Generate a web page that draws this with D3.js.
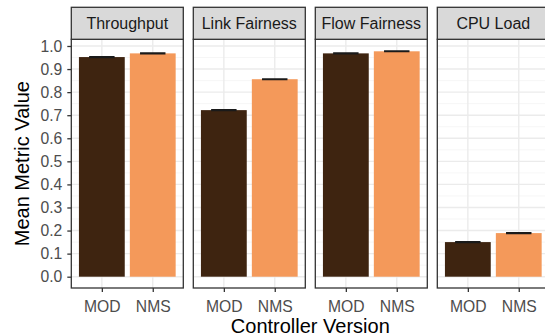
<!DOCTYPE html>
<meta charset="utf-8">
<title>metrics</title>
<style>
  body { margin: 0; background: #fff; }
  svg text { font-family: "Liberation Sans", Arial, sans-serif; }
</style>
<body>
<div class="chart"></div>
</body>
<script src="https://d3js.org/d3.v7.min.js"></script>
<script>

// data

var metrics = ["Throughput", "Link Fairness", "Flow Fairness", "CPU Load"];
var versions = ["MOD", "NMS"];
var modValues = [0.952, 0.722, 0.968, 0.150];
var nmsValues = [0.968, 0.856, 0.977, 0.189];
var modErrors = [0.002, 0.002, 0.002, 0.002];
var nmsErrors = [0.002, 0.002, 0.002, 0.002];
var yTicks = [0.0, 0.1, 0.2, 0.3, 0.4, 0.5, 0.6, 0.7, 0.8, 0.9, 1.0];
var yMinor = [0.05, 0.15, 0.25, 0.35, 0.45, 0.55, 0.65, 0.75, 0.85, 0.95];

var colors = {MOD: "#3e2410", NMS: "#f4995a"};

var W = 545, H = 335;
var panelLeft = 71.3, panelW = 112, gap = 10;
var stripTop = 7.3, stripH = 32;
var panelTop = stripTop + stripH, panelBottom = 288;

var svg = d3.select(".chart").append("svg")
  .attr("width", W)
  .attr("height", H);

// scales

var yscale = d3.scaleLinear()
  .domain([-0.049, 1.029])
  .range([panelBottom, panelTop]);

var xscale = d3.scaleLinear()
  .domain([0.4, 2.6])
  .range([0, panelW]);

var data = metrics.map(function(m, i) {
  return {
    metric: m,
    bars: [
      {version: "MOD", value: modValues[i], err: modErrors[i]},
      {version: "NMS", value: nmsValues[i], err: nmsErrors[i]}
    ]
  };
});

var panel = svg.selectAll("g.panel")
  .data(data)
  .enter()
  .append("g")
  .attr("class", "panel")
  .attr("transform", function(d, i) {
    return "translate(" + (panelLeft + i * (panelW + gap)) + ",0)";
  });

// background + grid

panel.append("rect")
  .attr("x", 0).attr("y", panelTop)
  .attr("width", panelW).attr("height", panelBottom - panelTop)
  .attr("fill", "#fff");

panel.selectAll("line.minor")
  .data(yMinor)
  .enter().append("line")
  .attr("x1", 0).attr("x2", panelW)
  .attr("y1", function(d) { return yscale(d); })
  .attr("y2", function(d) { return yscale(d); })
  .attr("stroke", "#f4f4f4")
  .attr("stroke-width", 0.8);

panel.selectAll("line.major")
  .data(yTicks)
  .enter().append("line")
  .attr("x1", 0).attr("x2", panelW)
  .attr("y1", function(d) { return yscale(d); })
  .attr("y2", function(d) { return yscale(d); })
  .attr("stroke", "#ebebeb")
  .attr("stroke-width", 1.4);

panel.selectAll("line.vmajor")
  .data([1, 2])
  .enter().append("line")
  .attr("x1", function(d) { return xscale(d); })
  .attr("x2", function(d) { return xscale(d); })
  .attr("y1", panelTop).attr("y2", panelBottom)
  .attr("stroke", "#ebebeb")
  .attr("stroke-width", 1.4);

// bars

panel.selectAll("rect.bar")
  .data(function(d) { return d.bars; })
  .enter().append("rect")
  .attr("class", "bar")
  .attr("x", function(d, i) { return xscale(i + 1 - 0.45); })
  .attr("width", xscale(1.9) - xscale(1))
  .attr("y", function(d) { return yscale(d.value); })
  .attr("height", function(d) { return yscale(0) - yscale(d.value); })
  .attr("fill", function(d) { return colors[d.version]; });

// error bars

var eb = panel.selectAll("g.err")
  .data(function(d) { return d.bars; })
  .enter().append("g")
  .attr("class", "err");

eb.append("path")
  .attr("d", function(d, i) {
    var x0 = xscale(i + 1 - 0.25), x1 = xscale(i + 1 + 0.25), xc = xscale(i + 1);
    var y0 = yscale(d.value - d.err), y1 = yscale(d.value + d.err);
    return "M" + x0 + "," + y1 + "H" + x1 + "M" + x0 + "," + y0 + "H" + x1 +
      "M" + xc + "," + y0 + "V" + y1;
  })
  .attr("fill", "none")
  .attr("stroke", "#1a1a1a")
  .attr("stroke-width", 1.2);

// panel border

panel.append("rect")
  .attr("x", 0).attr("y", panelTop)
  .attr("width", panelW).attr("height", panelBottom - panelTop)
  .attr("fill", "none")
  .attr("stroke", "#333")
  .attr("stroke-width", 1.3);

// strips

panel.append("rect")
  .attr("x", 0).attr("y", stripTop)
  .attr("width", panelW).attr("height", stripH)
  .attr("fill", "#d9d9d9")
  .attr("stroke", "#333")
  .attr("stroke-width", 1.3);

panel.append("text")
  .attr("x", panelW / 2)
  .attr("y", stripTop + stripH / 2 + 5.7)
  .attr("text-anchor", "middle")
  .attr("font-size", "16px")
  .attr("fill", "#1a1a1a")
  .text(function(d) { return d.metric; });

// x axes

var xaxis = d3.axisBottom(xscale)
  .tickValues([1, 2])
  .tickFormat(function(d) { return versions[d - 1]; })
  .tickSize(4)
  .tickPadding(5);

panel.append("g")
  .attr("class", "axis xaxis")
  .attr("transform", "translate(0," + panelBottom + ")")
  .call(xaxis)
  .call(function(g) {
    g.select(".domain").remove();
    g.selectAll("line").attr("stroke", "#333").attr("stroke-width", 1.3);
    g.selectAll("text")
      .attr("font-size", "15.7px")
      .attr("fill", "#4d4d4d")
      .attr("dy", "0.95em");
  });

// y axis (first panel only)

var yaxis = d3.axisLeft(yscale)
  .tickValues(yTicks)
  .tickFormat(d3.format(".1f"))
  .tickSize(4)
  .tickPadding(5);

svg.append("g")
  .attr("class", "axis yaxis")
  .attr("transform", "translate(" + panelLeft + ",0)")
  .call(yaxis)
  .call(function(g) {
    g.select(".domain").remove();
    g.selectAll("line").attr("stroke", "#333").attr("stroke-width", 1.3);
    g.selectAll("text")
      .attr("font-size", "15.7px")
      .attr("fill", "#4d4d4d");
  });

// axis titles

svg.append("text")
  .attr("x", panelLeft + (4 * panelW + 3 * gap) / 2)
  .attr("y", 332.5)
  .attr("text-anchor", "middle")
  .attr("font-size", "20px")
  .attr("fill", "#000")
  .text("Controller Version");

svg.append("text")
  .attr("transform", "translate(29," + ((panelTop + panelBottom) / 2) + ") rotate(-90)")
  .attr("text-anchor", "middle")
  .attr("font-size", "20px")
  .attr("fill", "#000")
  .text("Mean Metric Value");

</script>
